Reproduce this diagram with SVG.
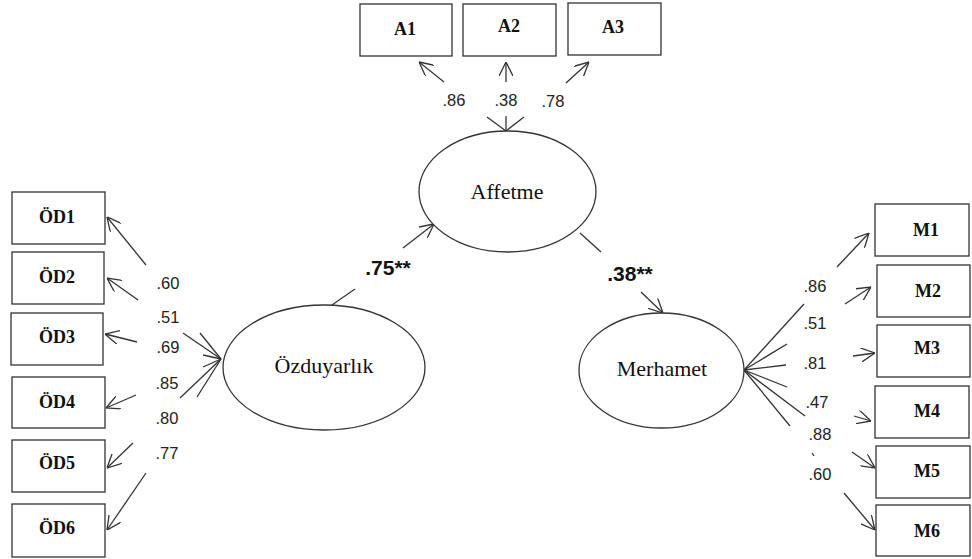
<svg xmlns="http://www.w3.org/2000/svg" width="972" height="559" viewBox="0 0 972 559">
<defs>
<marker id="arr" viewBox="0 0 14 14" refX="14" refY="7" markerWidth="14" markerHeight="14" markerUnits="userSpaceOnUse" orient="auto">
<path d="M0,0 L14,7 L0,14" fill="none" stroke="#333" stroke-width="1.3"/>
</marker>
<style>
.box{fill:#fff;stroke:#333;stroke-width:1.3}
.lat{fill:#fff;stroke:#333;stroke-width:1.3}
.bt{font-family:"Liberation Serif","Times New Roman",serif;font-weight:bold;font-size:18px;fill:#111;text-anchor:middle;dominant-baseline:central}
.lt{font-family:"Liberation Serif","Times New Roman",serif;font-size:22px;fill:#111;text-anchor:middle;dominant-baseline:central}
.ln{stroke:#333;stroke-width:1.3;fill:none}
.ar{stroke:#333;stroke-width:1.3;fill:none;marker-end:url(#arr)}
.lb{font-family:"Liberation Sans",Arial,sans-serif;font-size:16.5px;fill:#222;text-anchor:middle;dominant-baseline:central}
.sb{font-family:"Liberation Sans",Arial,sans-serif;font-size:21px;font-weight:bold;fill:#111;text-anchor:middle;dominant-baseline:central}
</style>
</defs>
<rect width="972" height="559" fill="#fff"/>

<g id="connectors">
<!-- Affetme indicators -->
<line class="ln" x1="506" y1="131" x2="487" y2="117"/>
<line class="ln" x1="506" y1="131" x2="506" y2="116"/>
<line class="ln" x1="506" y1="131" x2="524" y2="117"/>
<line class="ar" x1="444" y1="82" x2="419" y2="62"/>
<line class="ar" x1="506" y1="82" x2="506" y2="62"/>
<line class="ar" x1="566" y1="83" x2="589" y2="62"/>
<!-- Ozduyarlik indicators -->
<line class="ln" x1="221" y1="359" x2="200" y2="333"/>
<line class="ln" x1="221" y1="359" x2="183" y2="333"/>
<line class="ln" x1="221" y1="359" x2="203" y2="355"/>
<line class="ln" x1="221" y1="359" x2="203" y2="367"/>
<line class="ln" x1="221" y1="359" x2="180" y2="398"/>
<line class="ln" x1="221" y1="359" x2="197" y2="397"/>
<line class="ar" x1="146" y1="265" x2="107" y2="217"/>
<line class="ar" x1="138" y1="300" x2="107" y2="278"/>
<line class="ar" x1="137" y1="342" x2="105" y2="334"/>
<line class="ar" x1="136" y1="395" x2="106" y2="408"/>
<line class="ar" x1="133" y1="443" x2="107" y2="468"/>
<line class="ar" x1="146" y1="473" x2="107" y2="530"/>
<!-- Merhamet indicators -->
<line class="ln" x1="744" y1="370" x2="804" y2="304"/>
<line class="ln" x1="744" y1="370" x2="787" y2="344"/>
<line class="ln" x1="744" y1="370" x2="786" y2="365"/>
<line class="ln" x1="744" y1="370" x2="787" y2="387"/>
<line class="ln" x1="744" y1="370" x2="805" y2="416"/>
<line class="ln" x1="744" y1="370" x2="790" y2="426"/>
<line class="ar" x1="837" y1="267" x2="869" y2="233"/>
<line class="ar" x1="845" y1="304" x2="871" y2="287"/>
<line class="ar" x1="853" y1="356" x2="875" y2="353"/>
<line class="ar" x1="854" y1="416" x2="871" y2="421"/>
<line class="ar" x1="852" y1="452" x2="875" y2="468"/>
<line class="ar" x1="844" y1="493" x2="875" y2="530"/>
<line class="ln" x1="812" y1="453" x2="814" y2="456"/>
<!-- structural paths -->
<line class="ln" x1="332" y1="305" x2="355" y2="289"/>
<line class="ar" x1="403" y1="248" x2="434" y2="224"/>
<line class="ln" x1="580" y1="233" x2="601" y2="252"/>
<line class="ar" x1="641" y1="292" x2="663" y2="313"/>
<!-- labels -->
<text class="lb" x="454" y="100">.86</text>
<text class="lb" x="506" y="100">.38</text>
<text class="lb" x="553" y="101">.78</text>
<text class="lb" x="168" y="283">.60</text>
<text class="lb" x="168" y="317">.51</text>
<text class="lb" x="168" y="347">.69</text>
<text class="lb" x="167" y="383">.85</text>
<text class="lb" x="167" y="418">.80</text>
<text class="lb" x="167" y="453">.77</text>
<text class="lb" x="815" y="286">.86</text>
<text class="lb" x="815" y="323">.51</text>
<text class="lb" x="815" y="363">.81</text>
<text class="lb" x="817" y="402">.47</text>
<text class="lb" x="820" y="434">.88</text>
<text class="lb" x="820" y="474">.60</text>
<text class="sb" x="388" y="267">.75**</text>
<text class="sb" x="630" y="273">.38**</text>
</g>

<g id="A1"><rect class="box" x="360" y="4" width="92" height="52"/><text class="bt" x="405" y="29">A1</text></g>
<g id="A2"><rect class="box" x="463" y="4" width="93" height="52"/><text class="bt" x="509" y="26">A2</text></g>
<g id="A3"><rect class="box" x="568" y="3" width="93" height="52"/><text class="bt" x="613" y="27">A3</text></g>

<g id="OD1"><rect class="box" x="12" y="192" width="93" height="52"/><text class="bt" x="57" y="217">ÖD1</text></g>
<g id="OD2"><rect class="box" x="12" y="252" width="92" height="52"/><text class="bt" x="57" y="277">ÖD2</text></g>
<g id="OD3"><rect class="box" x="11" y="313" width="92" height="52"/><text class="bt" x="57" y="337">ÖD3</text></g>
<g id="OD4"><rect class="box" x="12" y="377" width="93" height="51"/><text class="bt" x="57" y="402">ÖD4</text></g>
<g id="OD5"><rect class="box" x="12" y="440" width="93" height="52"/><text class="bt" x="57" y="463">ÖD5</text></g>
<g id="OD6"><rect class="box" x="12" y="504" width="93" height="53"/><text class="bt" x="57" y="528">ÖD6</text></g>

<g id="M1"><rect class="box" x="875" y="204" width="94" height="52"/><text class="bt" x="926" y="230">M1</text></g>
<g id="M2"><rect class="box" x="877" y="265" width="93" height="52"/><text class="bt" x="928" y="291">M2</text></g>
<g id="M3"><rect class="box" x="877" y="325" width="93" height="52"/><text class="bt" x="927" y="348">M3</text></g>
<g id="M4"><rect class="box" x="875" y="386" width="94" height="52"/><text class="bt" x="927" y="411">M4</text></g>
<g id="M5"><rect class="box" x="876" y="446" width="94" height="52"/><text class="bt" x="927" y="471">M5</text></g>
<g id="M6"><rect class="box" x="876" y="505" width="94" height="51"/><text class="bt" x="927" y="531">M6</text></g>

<g id="Affetme"><ellipse class="lat" cx="507.5" cy="191.5" rx="88.5" ry="60.5"/><text class="lt" x="507" y="191">Affetme</text></g>
<g id="Ozduyarlik"><ellipse class="lat" cx="324" cy="367.5" rx="101" ry="62.5"/><text class="lt" x="324" y="365">Özduyarlık</text></g>
<g id="Merhamet"><ellipse class="lat" cx="661.5" cy="370.5" rx="82.5" ry="57.5"/><text class="lt" x="662" y="368">Merhamet</text></g>
</svg>
